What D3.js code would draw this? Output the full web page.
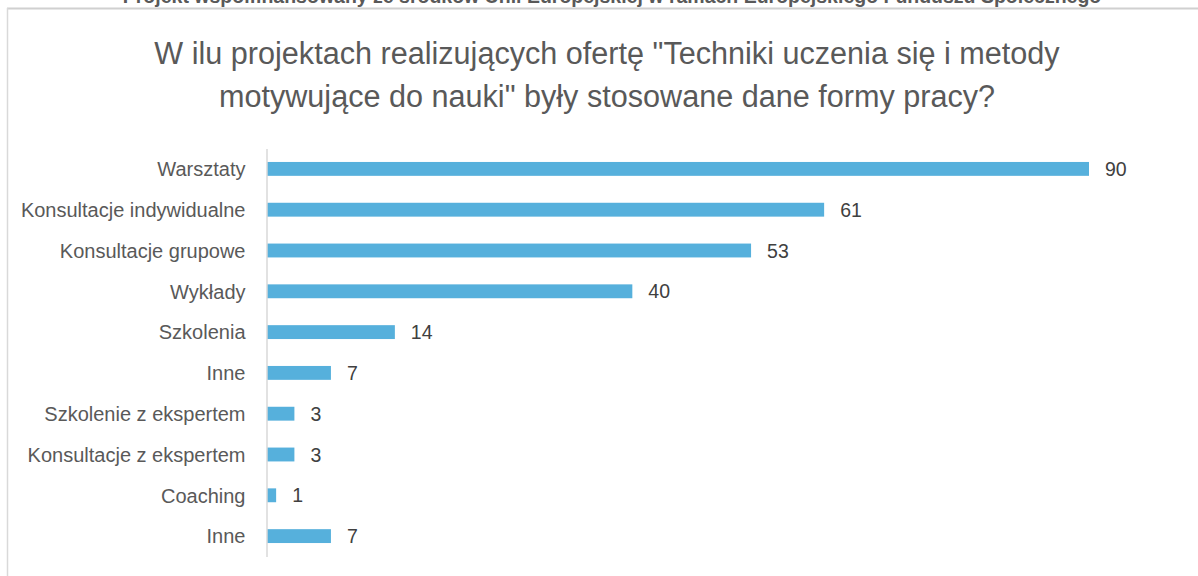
<!DOCTYPE html>
<html>
<head>
<meta charset="utf-8">
<script src="https://cdn.jsdelivr.net/npm/d3@7"></script>
<style>
  body { margin: 0; background: #fff; }
  svg { display: block; font-family: "Liberation Sans", Arial, sans-serif; }
</style>
</head>
<body>
<div id="root"></div>
<script>
const width = 1198;
const height = 576;

const categories = [
  "Warsztaty",
  "Konsultacje indywidualne",
  "Konsultacje grupowe",
  "Wykłady",
  "Szkolenia",
  "Inne",
  "Szkolenie z ekspertem",
  "Konsultacje z ekspertem",
  "Coaching",
  "Inne "
];
const values = [90, 61, 53, 40, 14, 7, 3, 3, 1, 7];
const titleLines = [
  "W ilu projektach realizujących ofertę \"Techniki uczenia się i metody",
  "motywujące do nauki\" były stosowane dane formy pracy?"
];
const headerText = "Projekt współfinansowany ze środków Unii Europejskiej w ramach Europejskiego Funduszu Społecznego";

const svg = d3.select("#root")
  .append("svg")
  .attr("width", width)
  .attr("height", height);

// header line of the page, mostly cut off at the top
svg.append("text")
  .attr("x", 612)
  .attr("y", 2.5)
  .attr("text-anchor", "middle")
  .attr("font-size", 19.5)
  .attr("font-weight", "bold")
  .attr("fill", "#595959")
  .text(headerText);

// chart frame
svg.append("line")
  .attr("x1", 7).attr("x2", width)
  .attr("y1", 8.5).attr("y2", 8.5)
  .attr("stroke", "#d0d0d0").attr("stroke-width", 2);
svg.append("line")
  .attr("x1", 7.5).attr("x2", 7.5)
  .attr("y1", 8).attr("y2", height)
  .attr("stroke", "#d9d9d9").attr("stroke-width", 1.5);

// title
svg.append("g")
  .selectAll("text")
  .data(titleLines)
  .join("text")
  .attr("x", 607)
  .attr("y", (d, i) => 64 + i * 43)
  .attr("text-anchor", "middle")
  .attr("font-size", 30.6)
  .attr("fill", "#595959")
  .text((d) => d);

const x = d3.scaleLinear().domain([0, 90]).range([267, 1089]);
const y = d3.scaleBand()
  .domain(categories)
  .range([148.5, 556.5])
  .paddingInner(0.66)
  .paddingOuter(0.33);

// bars
svg.append("g")
  .selectAll("rect")
  .data(values)
  .join("rect")
  .attr("x", x(0))
  .attr("y", (d, i) => y(categories[i]))
  .attr("width", (d) => x(d) - x(0))
  .attr("height", y.bandwidth())
  .attr("fill", "#56b0dc");

// value labels
svg.append("g")
  .selectAll("text")
  .data(values)
  .join("text")
  .attr("x", (d) => x(d) + 16)
  .attr("y", (d, i) => y(categories[i]) + y.bandwidth() / 2)
  .attr("dy", "0.36em")
  .attr("font-size", 19.5)
  .attr("fill", "#404040")
  .text((d) => d);

// category axis
const axis = svg.append("g")
  .attr("transform", `translate(${x(0) - 0.5},0)`)
  .call(d3.axisLeft(y).tickSize(0).tickPadding(21));
axis.select(".domain").attr("stroke", "#d9d9d9").attr("stroke-width", 1.5);
axis.selectAll("text")
  .attr("font-size", 20)
  .attr("font-family", "Liberation Sans, Arial, sans-serif")
  .attr("dy", "0.36em")
  .attr("fill", "#595959")
  .text((d) => d.trim());
</script>
</body>
</html>
